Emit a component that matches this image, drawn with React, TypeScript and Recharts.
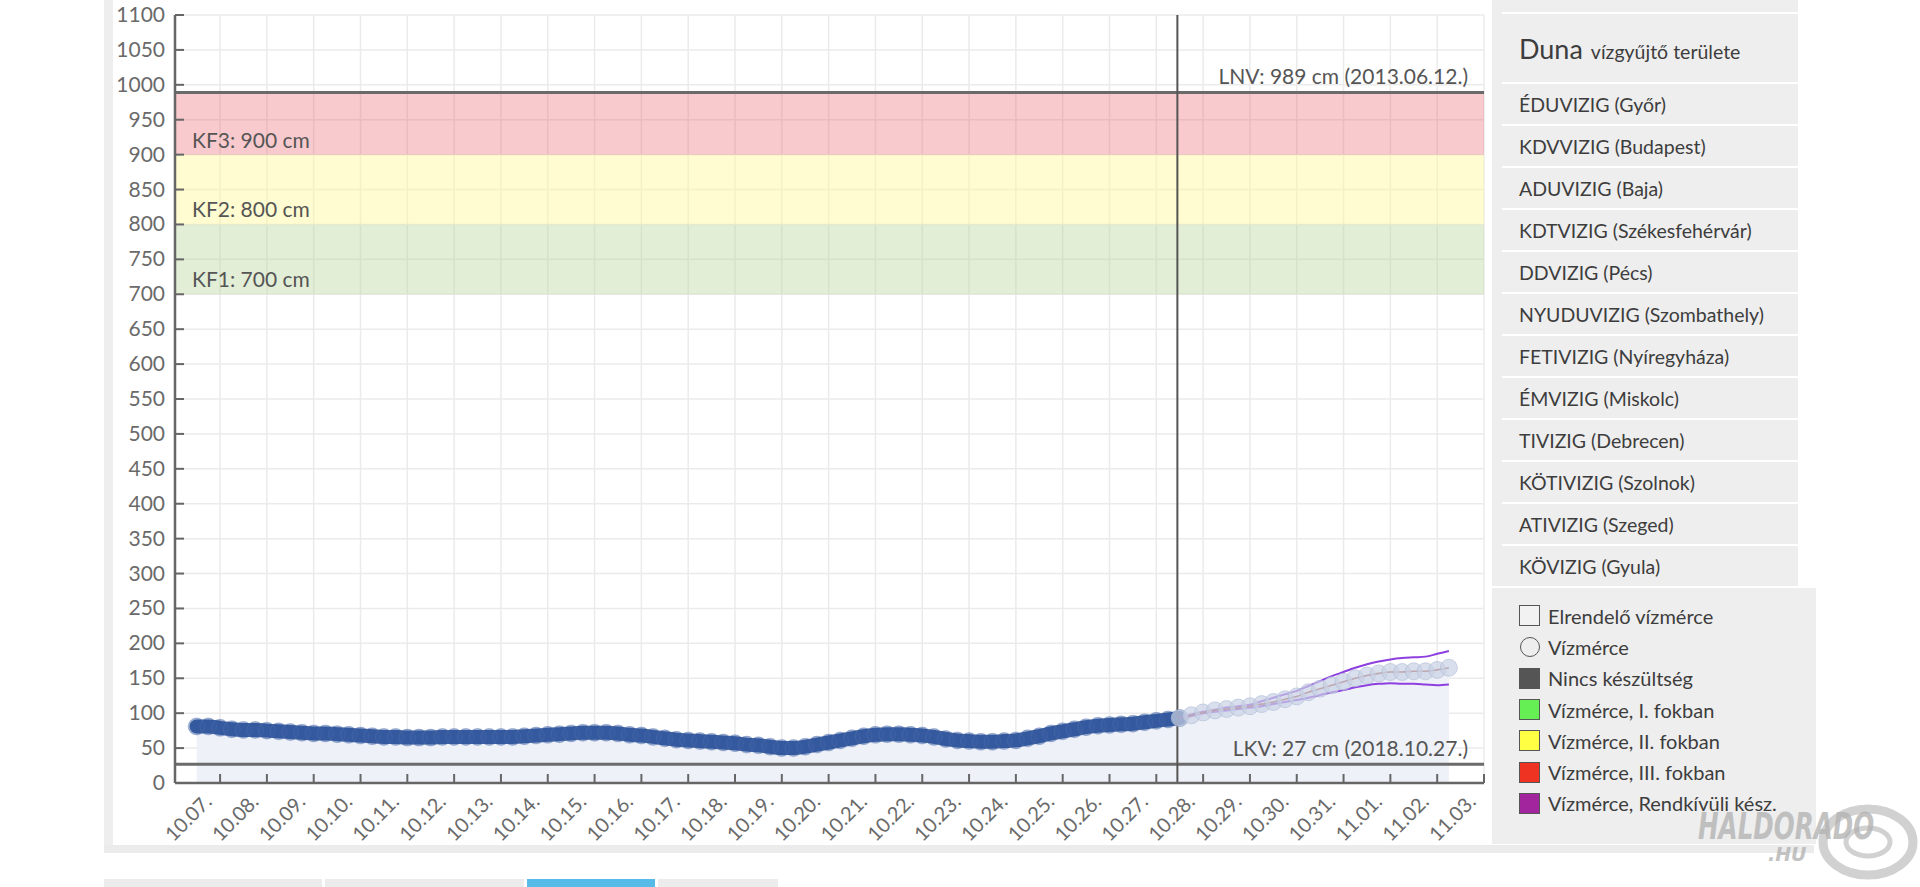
import {
  Area,
  CartesianGrid,
  ComposedChart,
  Line,
  ReferenceArea,
  ReferenceLine,
  XAxis,
  YAxis,
} from 'recharts';

const DAY_LABELS = [
  '10.07.', '10.08.', '10.09.', '10.10.', '10.11.', '10.12.', '10.13.',
  '10.14.', '10.15.', '10.16.', '10.17.', '10.18.', '10.19.', '10.20.',
  '10.21.', '10.22.', '10.23.', '10.24.', '10.25.', '10.26.', '10.27.',
  '10.28.', '10.29.', '10.30.', '10.31.', '11.01.', '11.02.', '11.03.',
];

const Y_TICKS = [
  0, 50, 100, 150, 200, 250, 300, 350, 400, 450, 500, 550,
  600, 650, 700, 750, 800, 850, 900, 950, 1000, 1050, 1100,
];

// measured level (cm), every 6 hours from 10.06. 12:00
const OBSERVED = [
  81, 81, 79, 77, 76, 76, 75, 74, 73, 72,
  71, 71, 70, 69, 68, 67, 66, 66, 65, 65,
  65, 66, 66, 66, 66, 66, 66, 66, 67, 68,
  69, 70, 71, 72, 72, 72, 71, 69, 68, 66,
  64, 62, 61, 60, 59, 58, 57, 55, 54, 52,
  50, 50, 52, 55, 58, 61, 64, 67, 69, 70,
  70, 69, 68, 66, 63, 61, 60, 59, 59, 60,
  61, 64, 67, 71, 74, 77, 80, 82, 83, 84,
  85, 87, 89, 91, 93,
];

// forecast (cm), every 6 hours from 10.27. 12:00
const FORECAST = [
  93, 97, 101, 104, 106, 108, 110, 113, 116, 120, 124, 130,
  135, 140, 145, 150, 154, 157, 159, 159, 160, 160, 162, 165,
];
const FORECAST_HIGH = [
  93, 98, 102, 105, 108, 110, 112, 117, 122, 127, 132, 139,
  146, 153, 159, 165, 170, 174, 177, 179, 180, 181, 185, 189,
];
const FORECAST_LOW = [
  93, 96, 100, 102, 104, 106, 108, 110, 113, 116, 119, 122,
  126, 130, 133, 137, 140, 142, 143, 142, 142, 141, 140, 141,
];

// time in days counted from 10.07. 00:00
const OBS_START = -0.5;
const FORECAST_START = 20.5;
const STEP = 0.25;
const NOW = 20.45;
const X_MIN = -0.963;
const X_MAX = 27;

const LNV = 989;
const LKV = 27;
const LNV_LABEL = 'LNV: 989 cm (2013.06.12.)';
const LKV_LABEL = 'LKV: 27 cm (2018.10.27.)';

const ALERT_FROM = [700, 800, 900];
const ALERT_TO = [800, 900, 989];
const ALERT_LABELS = ['KF1: 700 cm', 'KF2: 800 cm', 'KF3: 900 cm'];

const REGIONS = [
  'ÉDUVIZIG (Győr)',
  'KDVVIZIG (Budapest)',
  'ADUVIZIG (Baja)',
  'KDTVIZIG (Székesfehérvár)',
  'DDVIZIG (Pécs)',
  'NYUDUVIZIG (Szombathely)',
  'FETIVIZIG (Nyíregyháza)',
  'ÉMVIZIG (Miskolc)',
  'TIVIZIG (Debrecen)',
  'KÖTIVIZIG (Szolnok)',
  'ATIVIZIG (Szeged)',
  'KÖVIZIG (Gyula)',
];

const LEGEND_LABELS = [
  'Elrendelő vízmérce',
  'Vízmérce',
  'Nincs készültség',
  'Vízmérce, I. fokban',
  'Vízmérce, II. fokban',
  'Vízmérce, III. fokban',
  'Vízmérce, Rendkívüli kész.',
];

const FONT = 'Lato, "Open Sans", sans-serif';
const ALERT_FILLS = ['#b9d59b', '#fdf897', '#e8505a'];
const ALERT_OPACITY = [0.4, 0.45, 0.3];
const SWATCHES = ['#f2f2f2', 'circle', '#555555', '#66ee55', '#ffff44', '#ee3322', '#a3259e'];

const obsData = OBSERVED.map((v, i) => ({ t: OBS_START + i * STEP, v }));
const fcData = FORECAST.map((v, i) => ({
  t: FORECAST_START + i * STEP,
  v,
  hi: FORECAST_HIGH[i],
  lo: FORECAST_LOW[i],
}));
const areaData = [...obsData, ...fcData.slice(1)];

const XTick = (props: any) => {
  const { x, y, payload } = props;
  const tx = x - 7;
  const ty = y + 20;
  return (
    <g>
      <line x1={x} x2={x} y1={y} y2={y - 9} stroke="#666" strokeWidth={2} />
      <text
        x={tx}
        y={ty}
        transform={`rotate(-45 ${tx} ${ty})`}
        textAnchor="end"
        fill="#6a6a6a"
        fontSize={20}
        fontFamily={FONT}
      >
        {DAY_LABELS[payload.value]}
      </text>
    </g>
  );
};

const YTick = (props: any) => {
  const { x, y, payload } = props;
  return (
    <g>
      <line x1={x} x2={x + 9} y1={y} y2={y} stroke="#666" strokeWidth={2} />
      <text x={x - 10} y={y + 7} textAnchor="end" fill="#6a6a6a" fontSize={21} fontFamily={FONT}>
        {payload.value}
      </text>
    </g>
  );
};

const lineLabel = (text: string) => (p: any) => {
  const vb = p.viewBox;
  return (
    <text
      x={vb.x + vb.width - 16}
      y={vb.y - 8}
      textAnchor="end"
      fill="#555"
      fontSize={21}
      fontFamily={FONT}
    >
      {text}
    </text>
  );
};

const bandLabel = (text: string) => (p: any) => {
  const vb = p.viewBox;
  return (
    <text x={vb.x + 17} y={vb.y + vb.height - 7} fill="#555" fontSize={21} fontFamily={FONT}>
      {text}
    </text>
  );
};

const Swatch = ({ kind }: { kind: string }) => {
  if (kind === 'circle') {
    return (
      <div
        style={{
          width: 20,
          height: 20,
          borderRadius: '50%',
          border: '1.5px solid #555',
          boxSizing: 'border-box',
        }}
      />
    );
  }
  return (
    <div
      style={{
        width: 21,
        height: 21,
        background: kind,
        border: '1.5px solid #555',
        boxSizing: 'border-box',
      }}
    />
  );
};

export default function App() {
  return (
    <div
      style={{
        position: 'absolute',
        left: 0,
        top: 0,
        width: 1920,
        height: 887,
        background: '#fff',
        overflow: 'hidden',
        fontFamily: FONT,
      }}
    >
      {/* chart panel frame */}
      <div style={{ position: 'absolute', left: 104, top: 0, width: 9, height: 853, background: '#eeeeee' }} />
      <div style={{ position: 'absolute', left: 104, top: 845, width: 1710, height: 8, background: '#ebebeb' }} />

      <div style={{ position: 'absolute', left: 113, top: 0 }}>
        <ComposedChart
          width={1379}
          height={845}
          margin={{ top: 15, right: 8, bottom: 0, left: 0 }}
          style={{ overflow: 'visible' }}
        >
          <CartesianGrid stroke="#ebebeb" strokeWidth={1.5} />
          <XAxis
            dataKey="t"
            type="number"
            domain={[X_MIN, X_MAX]}
            allowDataOverflow
            ticks={DAY_LABELS.map((_, i) => i)}
            interval={0}
            tickSize={0}
            tickMargin={0}
            height={62}
            axisLine={{ stroke: '#666', strokeWidth: 2.5 }}
            tick={<XTick />}
          />
          <YAxis
            type="number"
            domain={[0, 1100]}
            ticks={Y_TICKS}
            interval={0}
            tickSize={0}
            tickMargin={0}
            width={62}
            axisLine={{ stroke: '#666', strokeWidth: 2.5 }}
            tick={<YTick />}
          />
          {ALERT_FROM.map((from, i) => (
            <ReferenceArea
              key={ALERT_LABELS[i]}
              y1={from}
              y2={ALERT_TO[i]}
              fill={ALERT_FILLS[i]}
              fillOpacity={ALERT_OPACITY[i]}
              stroke="none"
              label={bandLabel(ALERT_LABELS[i])}
            />
          ))}
          <Area
            data={areaData}
            dataKey="v"
            type="monotone"
            fill="#eef1f7"
            fillOpacity={1}
            stroke="none"
            isAnimationActive={false}
          />
          <Line
            data={obsData}
            dataKey="v"
            type="monotone"
            stroke="#30549a"
            strokeWidth={14}
            strokeLinecap="round"
            dot={{ r: 8.5, fill: '#3a5ea2', fillOpacity: 0.5, stroke: '#5a78b2', strokeOpacity: 0.35, strokeWidth: 1 }}
            isAnimationActive={false}
          />
          <Line
            data={fcData}
            dataKey="v"
            type="monotone"
            stroke="none"
            dot={{ r: 8.5, fill: '#c9d2e4', fillOpacity: 0.7, stroke: '#aab8d3', strokeOpacity: 0.55, strokeWidth: 1 }}
            isAnimationActive={false}
          />
          <Line
            data={fcData}
            dataKey="hi"
            type="monotone"
            stroke="#8e3fe0"
            strokeWidth={2}
            dot={false}
            isAnimationActive={false}
          />
          <Line
            data={fcData}
            dataKey="lo"
            type="monotone"
            stroke="#8e3fe0"
            strokeWidth={2}
            dot={false}
            isAnimationActive={false}
          />
          <Line
            data={fcData}
            dataKey="v"
            type="monotone"
            stroke="#a2453a"
            strokeWidth={1.6}
            dot={false}
            isAnimationActive={false}
          />
          <ReferenceLine y={LNV} stroke="#6a6a6a" strokeWidth={3} label={lineLabel(LNV_LABEL)} />
          <ReferenceLine y={LKV} stroke="#6a6a6a" strokeWidth={3} label={lineLabel(LKV_LABEL)} />
          <ReferenceLine x={NOW} stroke="#555" strokeWidth={2} />
        </ComposedChart>
      </div>

      {/* side panel */}
      <div
        style={{
          position: 'absolute',
          left: 1492,
          top: 0,
          width: 306,
          height: 586,
          background: '#eeeeee',
          display: 'flex',
          flexDirection: 'column',
        }}
      >
        <div style={{ height: 12 }} />
        <div style={{ marginLeft: 10, height: 2, background: '#fff' }} />
        <div
          style={{
            height: 68,
            display: 'flex',
            alignItems: 'center',
            paddingLeft: 27,
            color: '#3d3d3d',
            whiteSpace: 'nowrap',
          }}
        >
          <span style={{ fontSize: 27 }}>Duna</span>
          <span style={{ fontSize: 19.5, marginLeft: 8, marginTop: 6 }}>vízgyűjtő területe</span>
        </div>
        {REGIONS.map((r) => (
          <div key={r}>
            <div style={{ marginLeft: 10, height: 2, background: '#fff' }} />
            <div
              style={{
                height: 40,
                display: 'flex',
                alignItems: 'center',
                paddingLeft: 27,
                fontSize: 19.5,
                color: '#3d3d3d',
                whiteSpace: 'nowrap',
              }}
            >
              {r}
            </div>
          </div>
        ))}
      </div>

      {/* legend box */}
      <div
        style={{
          position: 'absolute',
          left: 1492,
          top: 586,
          width: 324,
          height: 258,
          background: '#eeeeee',
          borderTop: '2px solid #fff',
          boxSizing: 'border-box',
          paddingTop: 12,
        }}
      >
        {LEGEND_LABELS.map((label, i) => (
          <div
            key={label}
            style={{
              height: 31.3,
              display: 'flex',
              alignItems: 'center',
              paddingLeft: 27,
              fontSize: 20,
              color: '#3d3d3d',
              whiteSpace: 'nowrap',
            }}
          >
            <div style={{ width: 21, display: 'flex', justifyContent: 'center' }}>
              <Swatch kind={SWATCHES[i]} />
            </div>
            <span style={{ marginLeft: 8 }}>{label}</span>
          </div>
        ))}
      </div>

      {/* watermark */}
      <svg style={{ position: 'absolute', left: 1680, top: 795, width: 240, height: 92 }}>
        <ellipse cx={188} cy={47} rx={45} ry={33} fill="none" stroke="#bdbdbd" strokeWidth={9} opacity={0.7} />
        <ellipse cx={188} cy={47} rx={22} ry={14} fill="none" stroke="#bdbdbd" strokeWidth={5} opacity={0.7} />
        <text
          x={25}
          y={44}
          fontSize={38}
          fontWeight="bold"
          fontStyle="italic"
          fontFamily='"DejaVu Sans Condensed", "DejaVu Sans", sans-serif'
          fill="#b4b4b4"
          opacity={0.8}
          transform="scale(0.72 1)"
        >
          HALDORADO
        </text>
        <text
          x={88}
          y={66}
          fontSize={19}
          fontWeight="bold"
          fontStyle="italic"
          fontFamily='"DejaVu Sans", sans-serif'
          fill="#b4b4b4"
          opacity={0.8}
        >
          .HU
        </text>
      </svg>

      {/* tabs below the chart */}
      <div style={{ position: 'absolute', left: 104, top: 879, width: 218, height: 8, background: '#ececec' }} />
      <div style={{ position: 'absolute', left: 325, top: 879, width: 199, height: 8, background: '#ececec' }} />
      <div style={{ position: 'absolute', left: 527, top: 879, width: 128, height: 8, background: '#57bbe8' }} />
      <div style={{ position: 'absolute', left: 658, top: 879, width: 120, height: 8, background: '#ececec' }} />
    </div>
  );
}
